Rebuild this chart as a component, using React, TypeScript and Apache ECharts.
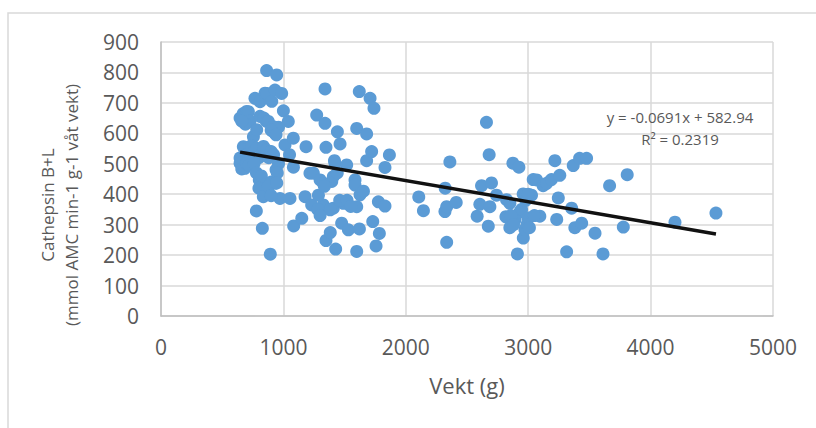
import React, { useEffect, useRef } from "react";
import * as echarts from "echarts";

// Vekt (g) values
const weights: number[] = [
  646, 672, 700, 714, 727, 690, 660, 755, 768, 782, 809, 809, 840, 850, 863, 863, 863, 877, 905, 918, 931, 931, 945, 986, 1000, 1040, 960, 900, 940,
  673, 646, 686, 700, 727, 740, 760, 782, 800, 820, 837, 863, 880, 900, 920, 940, 960, 1013, 1081, 1050,
  646, 660, 686, 700, 720, 760, 780, 803, 820, 840, 870, 900, 931, 950, 1082,
  800, 836, 877, 946, 972, 1054, 900,
  779, 828, 893,
  1084, 1150, 1177, 1185, 1217, 1231, 1245, 1272, 1300, 1326, 1326, 1340, 1340, 1348, 1348, 1383,
  1395, 1408, 1408, 1417, 1422, 1427, 1441, 1463, 1476, 1490, 1517, 1531, 1585, 1585, 1599, 1599, 1599, 1620, 1621, 1626, 1654, 1680, 1680, 1708, 1721, 1730, 1740, 1757, 1776, 1784, 1830, 1830, 1866, 1286, 1335, 1382, 1440, 1460, 1520, 1550, 1280, 1300,
  2106, 2144, 2322, 2320, 2334, 2360, 2334, 2412, 2583, 2605, 2619, 2659, 2681, 2674, 2687, 2700, 2741, 2823, 2818, 2850, 2875, 2893, 2912, 2924, 2932, 2959, 2946, 2960, 2973, 3000, 3027, 3041, 3069, 3095, 3122, 3151, 3190, 3218, 3233, 3246, 3258, 3314, 3355, 3368, 3381, 3420, 3437, 3477, 3546, 3611, 3665, 3777, 3809, 4199, 4534,
  2860, 2880, 2990, 3010, 3050, 2980, 2850, 3000,
];

// Cathepsin B+L activity values
const activity: number[] = [
  650, 665, 672, 671, 640, 630, 640, 589, 715, 612, 704, 656, 650, 732, 806, 731, 639, 639, 705, 622, 742, 600, 792, 731, 674, 639, 620, 610, 595,
  556, 519, 545, 530, 513, 560, 540, 551, 520, 530, 557, 545, 520, 540, 530, 480, 500, 562, 584, 530,
  502, 483, 485, 500, 495, 500, 470, 447, 460, 430, 420, 440, 436, 470, 489,
  420, 392, 426, 437, 386, 386, 395,
  345, 288, 203,
  296, 321, 392, 556, 469, 365, 469, 660, 447, 436, 365, 746, 633, 554, 248, 274,
  442, 458, 354, 510, 501, 220, 605, 565, 305, 370, 496, 283, 447, 430, 616, 359, 212, 737, 286, 398, 410, 598, 510, 715, 540, 310, 682, 230, 375, 271, 488, 361, 529, 397, 426, 349, 470, 380, 380, 360, 350, 330,
  391, 346, 420, 343, 359, 506, 242, 373, 328, 367, 428, 636, 530, 295, 359, 437, 397, 382, 326, 290, 502, 317, 204, 489, 342, 401, 350, 256, 284, 322, 397, 448, 447, 328, 428, 436, 448, 510, 317, 388, 462, 211, 354, 494, 290, 518, 305, 518, 272, 204, 428, 292, 464, 308, 338,
  330, 300, 300, 290, 330, 380, 370, 400,
];

// Trendline coefficients shown on the chart
const slope = -0.0691;
const intercept = 582.94;
const equationLines: string[] = ["y = -0.0691x + 582.94", "R² = 0.2319"];

const xTitle = "Vekt (g)";
const yTitleLines: string[] = ["Cathepsin B+L", "(mmol AMC min-1 g-1 våt vekt)"];

export default function App() {
  const ref = useRef<HTMLDivElement | null>(null);

  useEffect(() => {
    if (!ref.current) return;
    const chart = echarts.init(ref.current, null, { renderer: "svg" });
    const points = weights.map((w, i) => [w, activity[i]]);
    const minX = Math.min(...weights);
    const maxX = Math.max(...weights);
    const trend = [
      [minX, slope * minX + intercept],
      [maxX, slope * maxX + intercept],
    ];
    const font = "'Open Sans', sans-serif";
    chart.setOption({
      animation: false,
      backgroundColor: "#ffffff",
      grid: { left: 161, right: 43, top: 42, bottom: 112 },
      xAxis: {
        type: "value",
        min: 0,
        max: 5000,
        interval: 1000,
        name: xTitle,
        nameLocation: "middle",
        nameGap: 58,
        nameTextStyle: { color: "#595959", fontSize: 22, fontFamily: font },
        axisLine: { show: true, lineStyle: { color: "#bfbfbf", width: 1.5 } },
        axisTick: { show: false },
        axisLabel: {
          color: "#595959",
          fontSize: 21,
          fontFamily: font,
          margin: 20,
          formatter: (v: number) => String(v),
        },
        splitLine: { show: true, lineStyle: { color: "#d9d9d9", width: 1.5 } },
      },
      yAxis: {
        type: "value",
        min: 0,
        max: 900,
        interval: 100,
        axisLine: { show: true, lineStyle: { color: "#bfbfbf", width: 1.5 } },
        axisTick: { show: false },
        axisLabel: {
          color: "#595959",
          fontSize: 21,
          fontFamily: font,
          margin: 22,
          formatter: (v: number) => String(v),
        },
        splitLine: { show: true, lineStyle: { color: "#d9d9d9", width: 1.5 } },
      },
      graphic: [
        {
          type: "rect",
          shape: { x: 8, y: 13, width: 900, height: 500 },
          style: { fill: "none", stroke: "#d9d9d9", lineWidth: 1.5 },
          silent: true,
          z: -10,
        },
        {
          type: "text",
          x: 59,
          y: 205,
          rotation: Math.PI / 2,
          style: {
            text: yTitleLines.join("\n"),
            fill: "#595959",
            font: `17px ${font}`,
            align: "center",
            verticalAlign: "middle",
            lineHeight: 24,
          },
        },
        {
          type: "text",
          x: 680,
          y: 128,
          style: {
            text: equationLines.join("\n"),
            fill: "#595959",
            font: `15px ${font}`,
            align: "center",
            verticalAlign: "middle",
            lineHeight: 22,
          },
          z: 100,
        },
      ],
      series: [
        {
          type: "scatter",
          data: points,
          symbol: "circle",
          symbolSize: 13,
          itemStyle: { color: "#5b9bd5", opacity: 1 },
          z: 2,
        },
        {
          type: "line",
          data: trend,
          symbol: "none",
          lineStyle: { color: "#111111", width: 3.5 },
          z: 3,
        },
      ],
    });
    return () => chart.dispose();
  }, []);

  return (
    <div
      ref={ref}
      style={{ position: "fixed", left: 0, top: 0, width: 816, height: 428 }}
    />
  );
}
